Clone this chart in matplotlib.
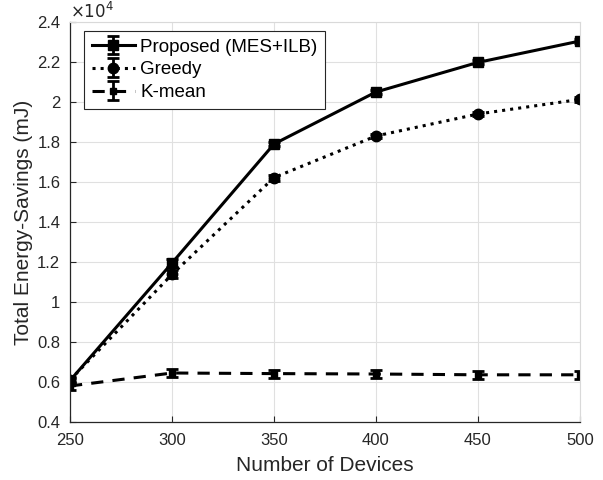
import matplotlib
matplotlib.use("Agg")
import matplotlib.pyplot as plt
import numpy as np

plt.rcParams['font.family'] = ['Liberation Sans', 'DejaVu Sans']

devices = [250, 300, 350, 400, 450, 500]
proposed = [0.607, 1.195, 1.79, 2.05, 2.198, 2.305]
greedy = [0.61, 1.138, 1.622, 1.83, 1.94, 2.013]
kmean = [0.58, 0.645, 0.642, 0.64, 0.636, 0.636]
err_prop = [0.015, 0.02, 0.012, 0.01, 0.01, 0.01]
err_greedy = [0.015, 0.02, 0.015, 0.012, 0.012, 0.012]
err_kmean = [0.02, 0.02, 0.02, 0.02, 0.02, 0.02]
yticks = [0.4, 0.6, 0.8, 1.0, 1.2, 1.4, 1.6, 1.8, 2.0, 2.2, 2.4]
yticklabels = ['0.4', '0.6', '0.8', '1', '1.2', '1.4', '1.6', '1.8', '2', '2.2', '2.4']

fig = plt.figure(figsize=(6.03, 4.8), dpi=100)
ax = fig.add_axes([70/603, 58/480, 510/603, 400/480])

ax.errorbar(devices, proposed, yerr=err_prop, color='black', linestyle='-', linewidth=2.2,
            marker='s', markersize=7, capsize=4, elinewidth=2, capthick=2,
            label='Proposed (MES+ILB)')
ax.errorbar(devices, greedy, yerr=err_greedy, color='black', linestyle=':', linewidth=2.2,
            marker='o', markersize=7.5, markerfacecolor='black', capsize=4, elinewidth=2,
            capthick=2, label='Greedy')
ax.errorbar(devices, kmean, yerr=err_kmean, color='black', linestyle='--', linewidth=2.2,
            dashes=(4, 3), marker='s', markersize=5, capsize=4, elinewidth=2, capthick=2,
            label='K-mean')

ax.set_xlim(250, 500)
ax.set_ylim(0.4, 2.4)
ax.set_xticks(devices)
ax.set_yticks(yticks)
ax.set_yticklabels(yticklabels)
ax.tick_params(labelsize=12, colors='#262626', direction='in', length=4)
ax.tick_params(axis='x', pad=8)
ax.tick_params(axis='y', pad=7)
ax.tick_params(top=False, right=False)
ax.grid(True, color='#e0e0e0', linewidth=0.8)
ax.set_axisbelow(True)
for k in ['left', 'bottom']:
    ax.spines[k].set_color('#262626')
    ax.spines[k].set_linewidth(0.9)
for k in ['top', 'right']:
    ax.spines[k].set_color('#d9d9d9')
    ax.spines[k].set_linewidth(0.8)

ax.set_xlabel('Number of Devices', fontsize=15, color='#262626', labelpad=6)
ax.set_ylabel('Total Energy-Savings (mJ)', fontsize=15, color='#262626', labelpad=3)
ax.text(0.0, 1.003, r'$\times10^4$', transform=ax.transAxes, fontsize=12,
        color='#262626', ha='left', va='bottom')

leg = ax.legend(loc='upper left', fontsize=13.5, fancybox=False, edgecolor='#262626',
                framealpha=1, handlelength=2.3, borderpad=0.4, labelspacing=0.3,
                handletextpad=0.3, borderaxespad=0.0, bbox_to_anchor=(14/510, 1 - 9/400))
leg.get_frame().set_linewidth(0.8)

fig.savefig('out.png', dpi=100)
